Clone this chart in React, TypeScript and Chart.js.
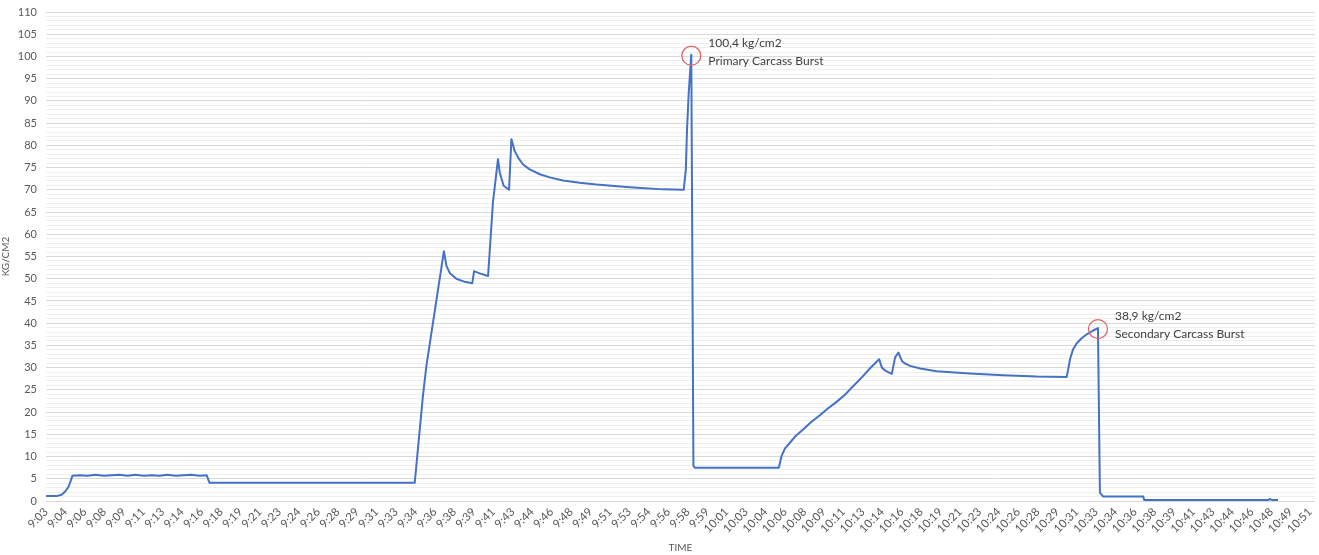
import React, { useEffect, useRef } from "react";
import { Chart, registerables } from "chart.js";

Chart.register(...registerables);

// X-axis tick labels (one every 100 s starting at 9:03:00)
const tickLabels = [
  "9:03", "9:04", "9:06", "9:08", "9:09", "9:11", "9:13", "9:14", "9:16", "9:18",
  "9:19", "9:21", "9:23", "9:24", "9:26", "9:28", "9:29", "9:31", "9:33", "9:34",
  "9:36", "9:38", "9:39", "9:41", "9:43", "9:44", "9:46", "9:48", "9:49", "9:51",
  "9:53", "9:54", "9:56", "9:58", "9:59", "10:01", "10:03", "10:04", "10:06", "10:08",
  "10:09", "10:11", "10:13", "10:14", "10:16", "10:18", "10:19", "10:21", "10:23", "10:24",
  "10:26", "10:28", "10:29", "10:31", "10:33", "10:34", "10:36", "10:38", "10:39", "10:41",
  "10:43", "10:44", "10:46", "10:48", "10:49", "10:51",
];

// Elapsed seconds since 9:03:00
const elapsedSec = [
  0, 54, 80, 100, 116, 126, 136, 172, 213, 255,
  296, 337, 378, 419, 460, 502, 543, 584, 625, 666,
  707, 748, 790, 826, 841, 1896, 1938, 1956, 2046, 2059,
  2076, 2110, 2153, 2192, 2201, 2230, 2273, 2281, 2298, 2324,
  2333, 2353, 2381, 2393, 2410, 2431, 2453, 2487, 2539, 2590,
  2658, 2744, 2830, 3001, 3173, 3279, 3290, 3296, 3305, 3318,
  3329, 3336, 3768, 3782, 3799, 3825, 3856, 3893, 3933, 3979,
  4020, 4065, 4108, 4150, 4195, 4236, 4284, 4298, 4320, 4349,
  4366, 4383, 4401, 4418, 4443, 4495, 4579, 4673, 4751, 4922,
  5094, 5248, 5256, 5266, 5280, 5300, 5325, 5352, 5382, 5409,
  5419, 5436, 5642, 5647, 6283, 6294, 6304, 6335,
];

// Pressure, kg/cm2
const pressure = [
  1.1, 1.1, 1.4, 2.2, 3.2, 4.4, 5.7, 5.8, 5.7, 5.9,
  5.7, 5.8, 5.9, 5.7, 5.9, 5.7, 5.8, 5.7, 5.9, 5.7,
  5.8, 5.9, 5.7, 5.8, 4.1, 4.1, 23.6, 30.4, 56.2, 52.9,
  51.3, 50.0, 49.3, 49.0, 51.7, 51.2, 50.6, 55.9, 67.1, 76.9,
  73.9, 70.9, 70.0, 81.4, 78.7, 77.0, 75.7, 74.6, 73.5, 72.8,
  72.1, 71.6, 71.2, 70.6, 70.1, 70.0, 74.6, 83.6, 92.0, 100.4,
  7.9, 7.5, 7.5, 10.1, 11.8, 13.1, 14.7, 16.1, 17.7, 19.3,
  20.8, 22.3, 23.9, 25.8, 27.8, 29.8, 31.9, 30.0, 29.2, 28.6,
  32.3, 33.4, 31.5, 30.9, 30.4, 29.8, 29.2, 28.9, 28.7, 28.3,
  28.0, 27.9, 29.6, 32.0, 34.0, 35.5, 36.6, 37.5, 38.3, 38.9,
  1.9, 1.0, 1.0, 0.2, 0.2, 0.45, 0.2, 0.2,
];

// Burst annotations
const burstTimes = [3318, 5409];
const burstValues = ["100,4 kg/cm2", "38,9 kg/cm2"];
const burstCaptions = ["Primary Carcass Burst", "Secondary Carcass Burst"];

const FONT = "Lato, 'Open Sans', sans-serif";

const burstPlugin = {
  id: "burstAnnotations",
  afterDatasetsDraw(chart: any) {
    const { ctx, scales } = chart;
    const x = scales.x;
    const y = scales.y;
    burstTimes.forEach((t, k) => {
      const i = elapsedSec.indexOf(t);
      if (i < 0) return;
      const px = x.getPixelForValue(elapsedSec[i]);
      const py = y.getPixelForValue(pressure[i]);
      ctx.save();
      ctx.beginPath();
      ctx.arc(px, py + 1, 9.5, 0, Math.PI * 2);
      ctx.strokeStyle = "#e06666";
      ctx.lineWidth = 1.3;
      ctx.stroke();
      ctx.fillStyle = "#404040";
      ctx.font = `12px ${FONT}`;
      ctx.textBaseline = "middle";
      ctx.textAlign = "left";
      ctx.fillText(burstValues[k], px + 17, py - 12);
      ctx.fillText(burstCaptions[k], px + 17, py + 6);
      ctx.restore();
    });
  },
};

export default function App() {
  const canvasRef = useRef<HTMLCanvasElement | null>(null);

  useEffect(() => {
    if (!canvasRef.current) return;
    const data = elapsedSec.map((s, i) => ({ x: s, y: pressure[i] }));
    const chart = new Chart(canvasRef.current, {
      type: "line",
      data: {
        datasets: [
          {
            label: "KG/CM2",
            data,
            borderColor: "#4472C4",
            borderWidth: 2,
            borderJoinStyle: "round",
            pointRadius: 0,
            tension: 0,
            fill: false,
          },
        ],
      },
      options: {
        animation: false,
        responsive: true,
        maintainAspectRatio: false,
        layout: { padding: { top: 12, right: 4, left: 0, bottom: 0 } },
        plugins: {
          legend: { display: false },
          tooltip: { enabled: false },
        },
        scales: {
          x: {
            type: "linear",
            min: 0,
            max: 6525,
            grid: { display: false, drawTicks: false },
            border: { display: false },
            afterBuildTicks: (scale: any) => {
              scale.ticks = tickLabels.map((_, i) => ({ value: i * 100 }));
            },
            afterFit: (scale: any) => {
              scale.height = 54;
              scale.paddingLeft = 0;
              scale.paddingRight = 0;
            },
            ticks: {
              autoSkip: false,
              minRotation: 45,
              maxRotation: 45,
              padding: 4,
              color: "#595959",
              font: { family: FONT, size: 11.5 },
              callback: (value: any) => tickLabels[Math.round(Number(value) / 100)] ?? "",
            },
            title: {
              display: true,
              text: "TIME",
              color: "#595959",
              font: { family: FONT, size: 10 },
              padding: { top: 0, bottom: 1 },
            },
          },
          y: {
            type: "linear",
            min: 0,
            max: 110,
            afterFit: (scale: any) => {
              scale.width = 46;
              scale.paddingTop = 0;
              scale.paddingBottom = 0;
            },
            grid: {
              drawTicks: false,
              color: (ctx: any) =>
                ctx.tick && ctx.tick.value % 5 === 0 ? "#d9d9d9" : "#efefef",
              lineWidth: 1,
            },
            border: { display: false },
            ticks: {
              stepSize: 1,
              autoSkip: false,
              padding: 9,
              color: "#595959",
              font: { family: FONT, size: 11 },
              callback: (value: any) => (Number(value) % 5 === 0 ? String(value) : ""),
            },
            title: {
              display: true,
              text: "KG/CM2",
              color: "#595959",
              font: { family: FONT, size: 10 },
              padding: { top: 0, bottom: 0 },
            },
          },
        },
      },
      plugins: [burstPlugin],
    });
    return () => chart.destroy();
  }, []);

  return (
    <div
      style={{
        position: "fixed",
        left: 0,
        top: 0,
        width: "1319px",
        height: "555px",
        background: "#ffffff",
      }}
    >
      <canvas ref={canvasRef} />
    </div>
  );
}
